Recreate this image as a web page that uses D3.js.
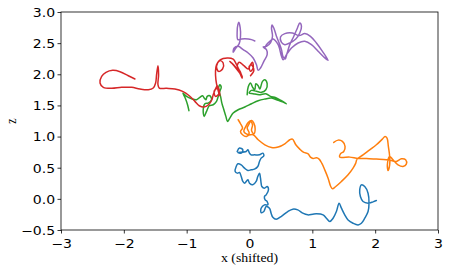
<!DOCTYPE html>
<html><head><meta charset="utf-8">
<script src="https://cdn.jsdelivr.net/npm/d3@7"></script>
<style>body{margin:0;background:#fff}svg{display:block}</style>
</head><body><svg id="c" width="449" height="273"></svg>
<script>
const xTicks = [-3,-2,-1,0,1,2,3];
const yTicks = [-0.5,0,0.5,1,1.5,2,2.5,3];
const seriesNames = ["blue","orange","green","red","purple"];
const seriesColors = ["#1f77b4","#ff7f0e","#2ca02c","#d62728","#9467bd"];

const blueX = [-0.196,-0.159,-0.106,-0.132,-0.185,-0.053,-0.026,0,0.026,0.079,0.159,0.212,0.228,0.185,0.159,0.132,0.079,0.026,-0.026,-0.079,-0.132,-0.185,-0.212,-0.228,-0.196,-0.159,-0.132,-0.106,-0.079,-0.026,0,0.053,0.106,0.132,0.159,0.175,0.185,0.196,0.238,0.281,0.302,0.265,0.238,0.249,0.281,0.291,0.238,0.185,0.185,0.228,0.265,0.318,0.344,0.371,0.424,0.503,0.609,0.689,0.768,0.848,0.927,1.007,1.065,1.171,1.224,1.277,1.330,1.383,1.426,1.463,1.516,1.569,1.648,1.728,1.781,1.834,1.887,1.902,1.887,1.834,1.781,1.754,1.765,1.807,1.887,1.966,2.019];
const blueZ = [0.761,0.815,0.788,0.734,0.745,0.761,0.788,0.734,0.707,0.707,0.707,0.734,0.691,0.654,0.600,0.520,0.477,0.466,0.456,0.493,0.547,0.563,0.520,0.439,0.413,0.423,0.359,0.279,0.252,0.305,0.252,0.225,0.279,0.359,0.413,0.332,0.252,0.198,0.171,0.198,0.145,0.064,0.038,-0.016,-0.043,-0.096,-0.096,-0.150,-0.220,-0.204,-0.123,-0.150,-0.230,-0.295,-0.327,-0.284,-0.204,-0.166,-0.177,-0.230,-0.257,-0.247,-0.241,-0.257,-0.311,-0.364,-0.311,-0.204,-0.070,-0.150,-0.257,-0.338,-0.391,-0.418,-0.391,-0.311,-0.204,-0.070,0.091,0.198,0.225,0.145,0.038,-0.043,-0.070,-0.048,-0.027];

const orangeX = [-0.180,-0.143,-0.111,-0.143,-0.111,-0.048,-0.005,-0.037,-0.005,0.016,0.048,0.032,0.069,0.090,0.069,0.032,-0.021,-0.058,-0.090,-0.021,0.058,0.138,0.244,0.350,0.456,0.562,0.641,0.684,0.737,0.800,0.864,0.933,0.970,1.012,1.065,1.108,1.150,1.198,1.251,1.293,1.320,1.373,1.463,1.569,1.648,1.691,1.712,1.807,1.913,2.019,2.114,2.157,2.189,2.210,2.231,2.231,2.205,2.194,2.231,2.284,2.364,2.443,2.496,2.485,2.417,2.337,2.258,2.178,2.019,1.860,1.728,1.595,1.489,1.436,1.447,1.500,1.521,1.479,1.410,1.341];
const orangeZ = [1.270,1.206,1.136,1.083,1.029,1.002,1.056,1.136,1.206,1.243,1.190,1.099,1.045,1.120,1.217,1.259,1.227,1.163,1.083,1.029,1.029,0.949,0.868,0.825,0.831,0.884,0.949,0.959,0.868,0.798,0.745,0.723,0.670,0.648,0.659,0.638,0.573,0.466,0.332,0.198,0.161,0.198,0.279,0.386,0.493,0.573,0.638,0.707,0.788,0.868,0.959,1.002,0.975,0.841,0.681,0.547,0.456,0.547,0.681,0.627,0.547,0.520,0.557,0.627,0.643,0.600,0.616,0.627,0.638,0.648,0.648,0.670,0.665,0.670,0.723,0.761,0.841,0.922,0.943,0.906];

const greenX = [-0.037,-0.021,0.016,0.048,0.085,0.101,0.138,0.164,0.207,0.244,0.281,0.260,0.191,0.111,0.032,-0.005,0.058,0.154,0.260,0.334,0.419,0.509,0.588,0.525,0.456,0.350,0.244,0.138,0.032,-0.074,-0.180,-0.260,-0.313,-0.350,-0.376,-0.408,-0.440,-0.461,-0.493,-0.472,-0.450,-0.472,-0.498,-0.525,-0.578,-0.641,-0.684,-0.721,-0.737,-0.710,-0.657,-0.604,-0.631,-0.673,-0.694,-0.721,-0.747,-0.790,-0.843,-0.922,-1.002,-1.060,-1.023,-0.986,-0.964];
const greenZ = [1.672,1.795,1.860,1.795,1.752,1.849,1.817,1.763,1.886,1.913,1.849,1.752,1.710,1.726,1.742,1.699,1.688,1.672,1.688,1.645,1.624,1.576,1.527,1.560,1.581,1.618,1.602,1.576,1.527,1.474,1.431,1.377,1.297,1.243,1.324,1.431,1.538,1.645,1.763,1.833,1.795,1.726,1.645,1.565,1.511,1.495,1.404,1.324,1.431,1.527,1.538,1.592,1.656,1.645,1.592,1.618,1.656,1.629,1.592,1.608,1.645,1.698,1.618,1.511,1.415];

const redX = [-1.823,-1.929,-2.061,-2.178,-2.284,-2.353,-2.379,-2.326,-2.194,-2.035,-1.876,-1.744,-1.611,-1.532,-1.494,-1.479,-1.457,-1.447,-1.457,-1.436,-1.320,-1.187,-1.065,-0.959,-0.869,-0.800,-0.726,-0.652,-0.599,-0.578,-0.546,-0.514,-0.488,-0.541,-0.562,-0.498,-0.472,-0.514,-0.535,-0.541,-0.525,-0.472,-0.419,-0.429,-0.493,-0.525,-0.461,-0.355,-0.260,-0.233,-0.180,-0.111,-0.164,-0.260,-0.313,-0.233,-0.154,-0.117,-0.143,-0.196,-0.164,-0.090,-0.021,0.016,0.048,0.058,0.016,-0.005,0.032,0.069,0.016];
const redZ = [1.924,1.977,2.042,2.063,2.031,1.967,1.860,1.790,1.774,1.790,1.790,1.763,1.752,1.779,1.860,1.994,2.138,1.994,1.833,1.779,1.774,1.763,1.726,1.656,1.565,1.495,1.474,1.511,1.592,1.672,1.752,1.817,1.688,1.645,1.731,1.779,1.656,1.795,1.913,2.047,2.154,2.219,2.181,2.085,2.047,2.128,2.235,2.262,2.245,2.208,2.101,1.956,2.031,2.154,2.208,2.128,2.020,1.935,2.031,2.128,2.192,2.138,2.085,2.154,2.192,2.101,2.047,2.128,2.149,2.063,1.978];

const purpleX = [0.085,0.032,-0.021,-0.127,-0.185,-0.196,-0.185,-0.170,-0.148,-0.143,-0.164,-0.217,-0.260,-0.244,-0.180,-0.101,-0.021,0.058,0.111,0.138,0.175,0.228,0.281,0.270,0.217,0.270,0.334,0.366,0.350,0.360,0.392,0.429,0.472,0.509,0.535,0.567,0.599,0.641,0.705,0.763,0.800,0.827,0.800,0.737,0.641,0.562,0.509,0.493,0.562,0.684,0.790,0.880,0.970,1.065,1.161,1.251,1.182,1.092,0.986,0.880,0.774,0.668,0.599,0.535,0.509,0.482,0.456,0.376,0.323,0.270,0.244];
const purpleZ = [2.535,2.556,2.567,2.567,2.556,2.690,2.797,2.835,2.744,2.610,2.492,2.422,2.353,2.422,2.449,2.396,2.342,2.262,2.154,2.063,2.101,2.208,2.315,2.396,2.438,2.449,2.503,2.610,2.744,2.792,2.728,2.610,2.503,2.396,2.278,2.245,2.342,2.476,2.610,2.744,2.824,2.771,2.663,2.567,2.503,2.476,2.513,2.599,2.653,2.663,2.621,2.653,2.610,2.503,2.369,2.224,2.278,2.369,2.476,2.529,2.503,2.422,2.331,2.235,2.288,2.396,2.476,2.567,2.529,2.476,2.422];

const seriesX = [blueX, orangeX, greenX, redX, purpleX];
const seriesZ = [blueZ, orangeZ, greenZ, redZ, purpleZ];

const svg = d3.select("#c");
const L = 61, R = 438, T = 12, B = 230;
const x = d3.scaleLinear().domain([-3,3]).range([L,R]);
const y = d3.scaleLinear().domain([-0.5,3]).range([B,T]);

const g = svg.append("g");
const line = d3.line().x(d=>x(d[0])).y(d=>y(d[1])).curve(d3.curveCatmullRom.alpha(0.5));
seriesNames.forEach((n,i)=>{
  const pts = seriesX[i].map((v,j)=>[v, seriesZ[i][j]]);
  g.append("path").attr("d", line(pts)).attr("fill","none")
   .attr("stroke", seriesColors[i]).attr("stroke-width",1.5)
   .attr("stroke-linejoin","round").attr("stroke-linecap","round");
});

const fmtX = d3.format("d");
const fmtY = d3.format(".1f");
const xa = svg.append("g").attr("transform",`translate(0,${B})`)
  .call(d3.axisBottom(x).tickValues(xTicks).tickFormat(fmtX).tickSize(3.5).tickSizeOuter(0));
const ya = svg.append("g").attr("transform",`translate(${L},0)`)
  .call(d3.axisLeft(y).tickValues(yTicks).tickFormat(fmtY).tickSize(3.5).tickSizeOuter(0));
[xa,ya].forEach(a=>{
  a.select(".domain").remove();
  a.selectAll("line").attr("stroke","#000").attr("stroke-width",0.8);
  a.selectAll("text").attr("fill","#000").style("font-family","'DejaVu Sans'").style("font-size","12px")
    .attr("transform","scale(1.17,1)");
});
xa.selectAll("text").attr("dy","0.95em");
ya.selectAll("text").attr("x",-5).attr("dy","0.36em");

svg.append("rect").attr("x",L).attr("y",T).attr("width",R-L).attr("height",B-T)
  .attr("fill","none").attr("stroke","#000").attr("stroke-width",0.8);

svg.append("text").attr("transform",`translate(${(L+R)/2},262) scale(1.15,1)`).attr("text-anchor","middle")
  .style("font-family","'Liberation Serif'").style("font-size","12px").text("x (shifted)");
svg.append("text").attr("transform",`translate(16,${(T+B)/2}) rotate(-90) scale(1,1.15)`).attr("text-anchor","middle")
  .style("font-family","'Liberation Serif'").style("font-size","12px").text("z");
</script></body></html>
